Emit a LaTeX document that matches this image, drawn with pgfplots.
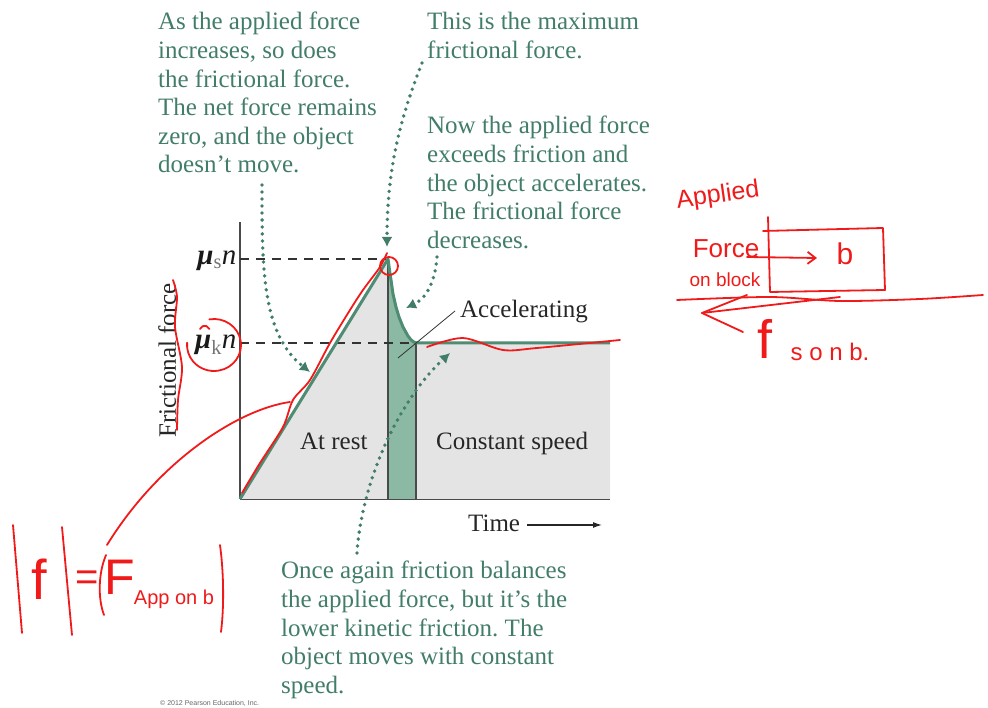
\documentclass[border=0pt]{standalone}
\usepackage{fontspec}
\setmainfont{Liberation Serif}
\newfontfamily\hand{Liberation Sans}
\usepackage{pgfplots}
\usepackage{pgfplotstable}
\pgfplotsset{compat=1.18}
\usetikzlibrary{arrows.meta}

\definecolor{linegreen}{HTML}{4E8C74}
\definecolor{notegreen}{HTML}{427D69}
\definecolor{stripgreen}{HTML}{8CB9A3}
\definecolor{restgray}{HTML}{E4E4E4}
\definecolor{axgray}{HTML}{4A4A4A}
\definecolor{pen}{HTML}{F01A1A}

\newcommand\lblfont{\fontsize{25}{28.6}\selectfont}
\newcommand\note[1]{\parbox[t]{330pt}{\raggedright\frenchspacing\lblfont #1}}
\newcommand\coef[1]{\textbf{\textit{μ}}\textsubscript{\color{black!55}#1}\textit{n}}

% friction force against time: static ramp, peak, decay, kinetic plateau
\pgfplotstableread{
t F
0 0
148 240
149.5 229
151 219
153 205
156 192
159 182
163 172
168 163
171 159.2
174 156.8
177 156
370 156
}\friction

% the accelerating interval
\pgfplotstableread{
t F
148 240
149.5 229
151 219
153 205
156 192
159 182
163 172
168 163
171 159.2
174 156.8
176 156.2
}\accel

\tikzset{
  dotarrow/.style={notegreen, line width=3.8pt, line cap=round,
    dash pattern=on 0pt off 7pt,
    -{Latex[length=10pt,width=11pt]}},
}

\begin{document}
\begin{tikzpicture}
\begin{axis}[
  scale only axis, width=370pt, height=277pt,
  xmin=0, xmax=370, ymin=0, ymax=277,
  axis lines=left,
  axis line style={-, draw=axgray, line width=1.6pt},
  xtick=\empty, ytick={156,240},
  yticklabels={{\coef{k}},{\coef{s}}},
  yticklabel style={font=\fontsize{29}{30}\selectfont, text=black!90, yshift=-2pt},
  major tick length=0pt,
  clip=false,
]
% regions under the curve
\addplot[fill=restgray, draw=none] table {\friction} \closedcycle;
\addplot[fill=stripgreen, draw=none] table {\accel} \closedcycle;
\addplot[axgray, line width=1.8pt] coordinates {(148,0) (148,240)};
\addplot[axgray, line width=1.8pt] coordinates {(176,0) (176,156)};

% reference levels
\draw[black!80, line width=1.3pt, dash pattern=on 9pt off 7pt] (axis cs:0,240) -- (axis cs:146,240);
\draw[black!80, line width=1.3pt, dash pattern=on 9pt off 7pt] (axis cs:0,156) -- (axis cs:178,156);

% friction curve
\addplot[linegreen, line width=3pt, line join=round] table {\friction};

% region labels
\node[anchor=base west, inner sep=0, font=\lblfont, text=black!85] at (axis cs:60,49) {At rest};
\node[anchor=base west, inner sep=0, font=\lblfont, text=black!85] at (axis cs:196,49) {Constant speed};
\node[anchor=base west, inner sep=0, font=\lblfont, text=black!85] at (axis cs:220,181) {Accelerating};
\draw[black!80, line width=0.8pt] (axis cs:158,141) -- (axis cs:215,188);
\node[anchor=base west, inner sep=0, font=\lblfont, text=black!85, rotate=90] at (axis cs:-64,61) {Frictional force};
\node[anchor=base west, inner sep=0, font=\lblfont, text=black!85] at (axis cs:228,-33) {Time};
\draw[black!85, line width=1.2pt, -{Latex[length=9pt,width=6pt]}] (axis cs:287,-26) -- (axis cs:362,-26);

% explanatory notes
\node[anchor=base west, inner sep=0, text=notegreen] at (axis cs:-82,469) {\note{As the applied force\\increases, so does\\the frictional force.\\The net force remains\\zero, and the object\\doesn’t move.}};
\node[anchor=base west, inner sep=0, text=notegreen] at (axis cs:187,469) {\note{This is the maximum\\frictional force.}};
\node[anchor=base west, inner sep=0, text=notegreen] at (axis cs:187,365) {\note{Now the applied force\\exceeds friction and\\the object accelerates.\\The frictional force\\decreases.}};
\node[anchor=base west, inner sep=0, text=notegreen] at (axis cs:41,-80) {\note{Once again friction balances\\the applied force, but it’s the\\lower kinetic friction. The\\object moves with constant\\speed.}};

\draw[dotarrow] (axis cs:22,314) .. controls (axis cs:22,230) and (axis cs:22,165) .. (axis cs:70,127);
\draw[dotarrow] (axis cs:182,436) .. controls (axis cs:160,380) and (axis cs:147,330) .. (axis cs:147,252);
\draw[dotarrow] (axis cs:197,242) .. controls (axis cs:195,215) and (axis cs:185,200) .. (axis cs:166,191);
\draw[dotarrow] (axis cs:117,-54) .. controls (axis cs:122,20) and (axis cs:160,100) .. (axis cs:210,146);

\node[anchor=west, inner sep=0, font=\hand\fontsize{7}{8}\selectfont, text=black!60] at (axis cs:-80,-204) {© 2012 Pearson Education, Inc.};

% pen notes over the figure
\begin{scope}[pen, line width=1.8pt, line cap=round, line join=round]
\draw (axis cs:149,233) circle (9pt);
\draw plot[smooth] coordinates {(axis cs:2,6) (axis cs:20,36) (axis cs:43,72) (axis cs:53,99) (axis cs:70,119) (axis cs:90,156) (axis cs:110,189) (axis cs:123,209) (axis cs:140,232) (axis cs:147,246)};
\draw plot[smooth] coordinates {(axis cs:187,152) (axis cs:223,161) (axis cs:263,149) (axis cs:297,151) (axis cs:380,159)};
\draw (axis cs:-26,154) ++(100:27pt and 26pt) arc[start angle=100, end angle=-185, x radius=27pt, y radius=26pt];
\draw (axis cs:-40,170) arc[start angle=160, end angle=20, radius=5pt];
\draw plot[smooth] coordinates {(axis cs:-67,219) (axis cs:-63,202) (axis cs:-65,172) (axis cs:-58,132) (axis cs:-62,99) (axis cs:-63,69)};
\draw (axis cs:-133,-46) .. controls (axis cs:-80,40) and (axis cs:0,90) .. (axis cs:50,97);
% |f| = |F_App on b|
\draw (axis cs:-227,-26) -- (axis cs:-218,-134);
\draw (axis cs:-178,-28) -- (axis cs:-168,-136);
\draw (axis cs:-134,-56) .. controls (axis cs:-142,-75) and (axis cs:-142,-100) .. (axis cs:-136,-116);
\draw (axis cs:-20,-46) .. controls (axis cs:-16,-75) and (axis cs:-16,-110) .. (axis cs:-19,-133);
\node[font=\hand\fontsize{56}{56}\selectfont, text=pen] at (axis cs:-201,-80) {f};
\node[font=\hand\fontsize{40}{40}\selectfont, text=pen] at (axis cs:-153,-82) {=};
\node[font=\hand\fontsize{50}{50}\selectfont, text=pen] at (axis cs:-120,-78) {F};
\node[font=\hand\fontsize{20}{20}\selectfont, text=pen] at (axis cs:-66,-100) {App on b};
% block with the forces on it
\node[inner sep=0, font=\hand\fontsize{25}{25}\selectfont, text=pen, rotate=8] at (axis cs:478,303) {Applied};
\node[inner sep=0, font=\hand\fontsize{26}{26}\selectfont, text=pen] at (axis cs:486,250) {Force};
\node[inner sep=0, font=\hand\fontsize{19}{19}\selectfont, text=pen] at (axis cs:485,219) {on block};
\draw (axis cs:523,268) -- (axis cs:643,271) -- (axis cs:645,209) -- (axis cs:530,207) -- (axis cs:528,282);
\draw[-{Straight Barb[length=8pt,width=12pt]}] (axis cs:507,242) -- (axis cs:577,241);
\node[font=\hand\fontsize{30}{30}\selectfont, text=pen] at (axis cs:605,245) {b};
\draw plot[smooth] coordinates {(axis cs:437,199) (axis cs:530,202) (axis cs:600,198) (axis cs:680,200) (axis cs:743,204)};
\draw (axis cs:600,202) -- (axis cs:462,186);
\draw (axis cs:507,204) -- (axis cs:462,186) -- (axis cs:503,167);
\node[font=\hand\fontsize{54}{54}\selectfont, text=pen] at (axis cs:525,160) {f};
\node[font=\hand\fontsize{24}{24}\selectfont, text=pen] at (axis cs:590,147) {s o n b.};
\end{scope}

\coordinate (bl) at (axis cs:-240,-209);
\coordinate (tr) at (axis cs:748,499);
\end{axis}
\pgfresetboundingbox
\path[use as bounding box] (bl) rectangle (tr);
\end{tikzpicture}
\end{document}
